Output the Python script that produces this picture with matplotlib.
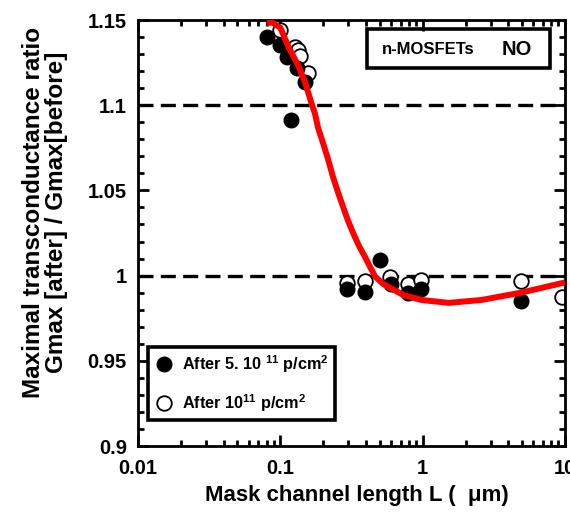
import matplotlib
matplotlib.use("Agg")
import matplotlib.pyplot as plt
from matplotlib.patches import Rectangle
from matplotlib.ticker import FixedLocator, NullFormatter, LogLocator

plt.rcParams['font.family'] = ['Liberation Sans', 'DejaVu Sans']
plt.rcParams['font.weight'] = 'bold'
plt.rcParams['mathtext.fontset'] = 'custom'
plt.rcParams['mathtext.rm'] = 'Liberation Sans:bold'
plt.rcParams['mathtext.bf'] = 'Liberation Sans:bold'
plt.rcParams['mathtext.it'] = 'Liberation Sans:bold:italic'
plt.rcParams['mathtext.default'] = 'rm'

# Measured transconductance ratio vs. mask channel length
filled_L = [0.081, 0.0995, 0.111, 0.119, 0.131, 0.149, 0.294, 0.393, 0.50, 0.597, 0.785, 0.98, 4.92]
filled_G = [1.140, 1.1353, 1.1283, 1.0913, 1.1218, 1.1136, 0.992, 0.9904, 1.0091, 0.995, 0.9897, 0.992, 0.985]

open_L = [0.0995, 0.127, 0.133, 0.138, 0.157, 0.294, 0.393, 0.59, 0.785, 0.98, 4.9, 9.6]
open_G = [1.1441, 1.1342, 1.1324, 1.129, 1.1189, 0.9956, 0.9968, 0.999, 0.995, 0.9977, 0.997, 0.9874]

# Fitted trend
fit_L = [0.0807, 0.088, 0.100, 0.115, 0.133, 0.149, 0.167, 0.175, 0.184, 0.1995, 0.2173,
         0.2344, 0.2556, 0.276, 0.2978, 0.3245, 0.359, 0.394, 0.4266, 0.463, 0.529,
         0.731, 0.98, 1.52, 2.59, 4.92, 10]
fit_G = [1.1482, 1.1485, 1.1455, 1.1336, 1.1236, 1.1136, 1.1001, 1.0952, 1.0868, 1.0778, 1.0678,
         1.0579, 1.0483, 1.0403, 1.0326, 1.0250, 1.0170, 1.0109, 1.0052, 0.9995, 0.9950,
         0.9886, 0.9857, 0.9840, 0.9857, 0.9900, 0.9960]

ref_levels = [1.1, 1.0]

y_ticks = [0.9, 0.95, 1.0, 1.05, 1.1, 1.15]
y_labels = ['0.9', '0.95', '1', '1.05', '1.1', '1.15']
x_ticks = [0.01, 0.1, 1, 10]
x_labels = ['0.01', '0.1', '1', '10']

fig = plt.figure(figsize=(5.7, 5.12), dpi=100)
ax = fig.add_axes([138 / 570, 66 / 512, 427 / 570, 426 / 512])

ax.set_xscale('log')
ax.set_xlim(0.01, 10)
ax.set_ylim(0.9, 1.15)

for lvl in ref_levels:
    ax.axhline(lvl, color='black', lw=2.4, dashes=(4.5, 2.2), zorder=1)

ms = 10.5
h_open, = ax.plot(open_L, open_G, 'o', ms=ms, mfc='white', mec='black', mew=1.3,
                  ls='none', zorder=2, label='After 10$^{11}$ p/cm$^{2}$')
h_fill, = ax.plot(filled_L, filled_G, 'o', ms=ms, mfc='black', mec='black', mew=1.0,
                  ls='none', zorder=3, label='After 5. 10 $^{11}$ p/cm$^{2}$')
ax.plot(fit_L, fit_G, color='#ff0000', lw=4.3, zorder=4, solid_capstyle='butt',
        solid_joinstyle='round')

# Axes styling
for sp in ax.spines.values():
    sp.set_linewidth(2.0)
ax.set_yticks(y_ticks)
ax.set_yticklabels(y_labels)
ax.yaxis.set_minor_locator(FixedLocator([0.9 + 0.01 * i for i in range(26)]))
ax.xaxis.set_major_locator(FixedLocator(x_ticks))
ax.set_xticklabels(x_labels)
ax.xaxis.set_minor_locator(LogLocator(base=10, subs=range(2, 10)))
ax.xaxis.set_minor_formatter(NullFormatter())
ax.tick_params(which='both', direction='in', top=True, right=True, width=2.0,
               labelsize=14.5)
ax.tick_params(axis='y', which='major', pad=8)
ax.tick_params(axis='x', which='major', pad=9)
ax.tick_params(which='major', length=8)
ax.tick_params(which='minor', length=4.5)
for lab in ax.get_xticklabels() + ax.get_yticklabels():
    lab.set_fontweight('bold')

ax.set_xlabel('Mask channel length L (  \u03bcm)', fontsize=16, fontweight='bold')
ax.xaxis.set_label_coords(0.513, -0.092)
ax.set_ylabel('Maximal transconductance ratio\nGmax [after] / Gmax[before]',
              fontsize=17.5, fontweight='bold', linespacing=1.02)
ax.yaxis.set_label_coords(-0.163, 0.549)

# Device annotation box
ax.add_patch(Rectangle((0.536, 0.887), 0.429, 0.092, transform=ax.transAxes,
                       fill=False, ec='black', lw=2.6, zorder=5))
ax.text(0.679, 0.930, 'n-MOSFETs', transform=ax.transAxes, ha='center', va='center',
        fontsize=12, fontweight='bold')
ax.text(0.888, 0.930, 'NO', transform=ax.transAxes, ha='center', va='center',
        fontsize=14.5, fontweight='bold')

leg = ax.legend(handles=[h_fill, h_open], loc='lower left',
                bbox_to_anchor=(0.023, 0.061), borderaxespad=0, fancybox=False,
                framealpha=1, edgecolor='black', prop={'weight': 'bold', 'size': 11.7},
                handletextpad=0.55, borderpad=0.38, labelspacing=1.05, handlelength=1.2)
leg.get_frame().set_linewidth(2.6)
leg.set_zorder(6)

fig.savefig('out.png', dpi=100)
